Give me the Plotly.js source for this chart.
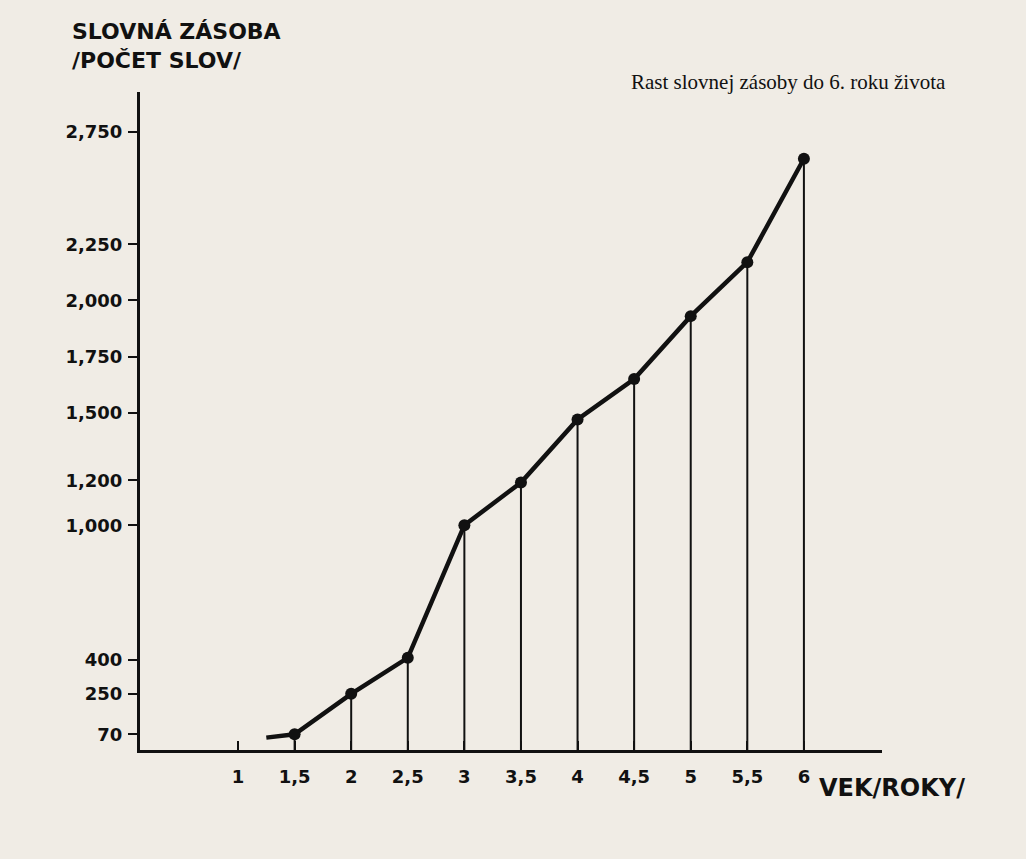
<!DOCTYPE html>
<html>
<head>
<meta charset="utf-8">
<script src="https://cdn.plot.ly/plotly-3.0.1.min.js"></script>
<style>
  html, body { margin: 0; padding: 0; background: #f0ece5; }
  #chart { width: 1026px; height: 859px; }
</style>
</head>
<body>
<div id="chart"></div>
<script>
// Data
const ages = [1.5, 2, 2.5, 3, 3.5, 4, 4.5, 5, 5.5, 6];
const vocabulary = [70, 250, 410, 1000, 1190, 1470, 1650, 1930, 2170, 2630];
const lineStartAge = 1.25;      // line begins before the first dot
const lineStartValue = 55;
const xTickVals = [1, 1.5, 2, 2.5, 3, 3.5, 4, 4.5, 5, 5.5, 6];
const xTickText = ['1', '1,5', '2', '2,5', '3', '3,5', '4', '4,5', '5', '5,5', '6'];
const yTickVals = [70, 250, 400, 1000, 1200, 1500, 1750, 2000, 2250, 2750];
const yTickText = ['70', '250', '400', '1,000', '1,200', '1,500', '1,750', '2,000', '2,250', '2,750'];
const chartTitle = 'Rast slovnej zásoby do 6. roku života';
const yTitleLines = ['SLOVNÁ ZÁSOBA', '/POČET SLOV/'];
const xTitle = 'VEK/ROKY/';

const ink = '#111111';
const bold = 'DejaVu Sans, Arial, sans-serif';

const traces = [
  {
    // drop lines from each point to the axis
    x: ages, y: vocabulary, type: 'scatter', mode: 'markers',
    marker: { size: 1, color: 'rgba(0,0,0,0)' },
    error_y: { type: 'data', symmetric: false, array: ages.map(() => 0), arrayminus: vocabulary,
               color: ink, thickness: 2, width: 0 },
    hoverinfo: 'skip', showlegend: false
  },
  {
    x: [lineStartAge].concat(ages), y: [lineStartValue].concat(vocabulary),
    type: 'scatter', mode: 'lines',
    line: { color: ink, width: 4.5 }, showlegend: false
  },
  {
    x: ages, y: vocabulary, type: 'scatter', mode: 'markers',
    marker: { color: ink, size: 12 }, showlegend: false
  }
];

const layout = {
  width: 1026, height: 859,
  paper_bgcolor: '#f0ece5', plot_bgcolor: '#f0ece5',
  margin: { l: 140, r: 144, t: 92, b: 109 },
  showlegend: false,
  xaxis: {
    range: [0.134, 6.69], showgrid: false, zeroline: false,
    showline: true, linecolor: ink, linewidth: 3,
    tickvals: xTickVals, ticktext: xTickText,
    ticks: 'inside', ticklen: 9, tickwidth: 2, tickcolor: ink,
    tickfont: { family: bold, size: 18, color: ink, weight: 'bold' },
    ticklabelstandoff: 8
  },
  yaxis: {
    range: [0, 2927], showgrid: false, zeroline: false,
    showline: true, linecolor: ink, linewidth: 3,
    tickvals: yTickVals, ticktext: yTickText,
    ticks: 'outside', ticklen: 9, tickwidth: 2, tickcolor: ink,
    tickfont: { family: bold, size: 18, color: ink, weight: 'bold' },
    ticklabelstandoff: 2
  },
  annotations: [
    { xref: 'paper', yref: 'paper', x: 1.089, y: 1.015, xanchor: 'right', yanchor: 'middle',
      text: chartTitle, showarrow: false,
      font: { family: 'Liberation Serif, Times New Roman, serif', size: 21, color: ink } },
    { xref: 'paper', yref: 'paper', x: -0.095, y: 1.026, xanchor: 'left', yanchor: 'bottom',
      text: yTitleLines.join('<br>'), align: 'left', showarrow: false,
      font: { family: bold, size: 22, color: ink, weight: 'bold' } },
    { xref: 'paper', yref: 'paper', x: 0.912, y: -0.058, xanchor: 'left', yanchor: 'middle',
      text: xTitle, showarrow: false,
      font: { family: bold, size: 24, color: ink, weight: 'bold' } }
  ]
};

Plotly.newPlot('chart', traces, layout, { displayModeBar: false, staticPlot: true });
</script>
</body>
</html>
